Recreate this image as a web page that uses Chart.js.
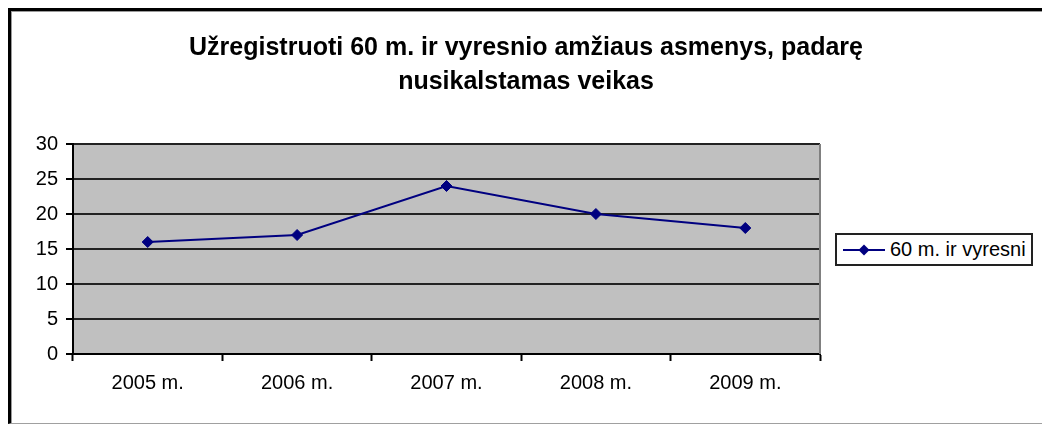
<!DOCTYPE html>
<html lang="lt">
<head>
<meta charset="utf-8">
<script src="https://cdn.jsdelivr.net/npm/chart.js@4.4.1/dist/chart.umd.min.js"></script>
<style>
    html, body { margin: 0; padding: 0; background: #fff; }
    body { width: 1042px; height: 425px; position: relative; overflow: hidden; font-family: "Liberation Sans", Arial, sans-serif; }
    #frame {
        position: absolute; left: 8px; top: 8px; width: 1034px; height: 416px;
        border-left: 3px solid #000; border-top: 3px solid #000;
        border-bottom: 1px solid #a0a0a0;
        box-shadow: inset 1px 1px 0 #9a9a9a;
        box-sizing: border-box;
    }
    #chartWrap { position: absolute; left: 0; top: 0; width: 1042px; height: 425px; }
    #legend {
        position: absolute; left: 835px; top: 233px; width: 198px; height: 33px;
        border: 2px solid #222; box-sizing: border-box; background: #fff;
        display: flex; align-items: center;
    }
    #legend svg { margin-left: 6px; }
    #legend span { font-size: 20px; color: #000; margin-left: 5px; white-space: nowrap; }
</style>
</head>
<body>
<div id="frame"></div>
<div id="chartWrap"><canvas id="chart" width="1042" height="425"></canvas></div>
<div id="legend">
    <svg width="42" height="12" viewBox="0 0 42 12">
        <line x1="0" y1="6" x2="42" y2="6" stroke="#000080" stroke-width="2"/>
        <polygon points="21,0.5 26.5,6 21,11.5 15.5,6" fill="#000080"/>
    </svg>
    <span id="legendLabel"></span>
</div>
<script>
// Duomenys
const years = ['2005 m.', '2006 m.', '2007 m.', '2008 m.', '2009 m.'];
const persons60 = [16, 17, 24, 20, 18];
const seriesName = '60 m. ir vyresni';
const yTicks = [0, 5, 10, 15, 20, 25, 30];
const titleLines = ['Užregistruoti 60 m. ir vyresnio amžiaus asmenys, padarę', 'nusikalstamas veikas'];

document.getElementById('legendLabel').textContent = seriesName;

const FONT = '"Liberation Sans", Arial, sans-serif';

// Pilkas braižymo plotas (Excel stilius)
const plotArea = {
    id: 'plotArea',
    beforeDraw(chart) {
        const { ctx, chartArea: a } = chart;
        ctx.save();
        ctx.fillStyle = '#c0c0c0';
        ctx.fillRect(a.left, a.top, a.right - a.left, a.bottom - a.top);
        ctx.restore();
    },
    afterDatasetsDraw(chart) {
        const { ctx, chartArea: a } = chart;
        ctx.save();
        ctx.strokeStyle = '#808080';
        ctx.lineWidth = 2;
        ctx.beginPath();
        ctx.moveTo(a.right, a.top);
        ctx.lineTo(a.right, a.bottom);
        ctx.stroke();
        ctx.restore();
    }
};

const ctx = document.getElementById('chart').getContext('2d');
new Chart(ctx, {
    type: 'line',
    data: {
        labels: years,
        datasets: [{
            label: seriesName,
            data: persons60,
            borderColor: '#000080',
            backgroundColor: '#000080',
            borderWidth: 2,
            pointStyle: 'rectRot',
            pointRadius: 5.5,
            pointBorderWidth: 1,
            tension: 0
        }]
    },
    options: {
        responsive: false,
        animation: false,
        layout: { padding: { left: 10, right: 0, top: 0, bottom: 0 } },
        plugins: {
            legend: { display: false },
            tooltip: { enabled: false },
            title: {
                display: true,
                text: titleLines,
                color: '#000',
                font: { family: FONT, size: 25, weight: 'bold', lineHeight: 1.36 },
                padding: { top: 31, bottom: 45 }
            }
        },
        scales: {
            x: {
                offset: true,
                afterFit: s => { s.height = 71; },
                grid: {
                    offset: true,
                    drawOnChartArea: false,
                    drawTicks: true,
                    tickLength: 7,
                    tickColor: '#000',
                    tickWidth: 2
                },
                border: { display: true, color: '#000', width: 2 },
                ticks: {
                    color: '#000',
                    padding: 10,
                    maxRotation: 0,
                    font: { family: FONT, size: 20 }
                }
            },
            y: {
                min: 0,
                max: 30,
                afterFit: s => { s.width = 63; },
                afterBuildTicks: s => { s.ticks = yTicks.map(v => ({ value: v })); },
                grid: {
                    color: '#222',
                    lineWidth: 2,
                    tickLength: 7,
                    tickColor: '#000',
                    tickWidth: 2
                },
                border: { display: true, color: '#000', width: 2 },
                ticks: {
                    color: '#000',
                    padding: 8,
                    font: { family: FONT, size: 20 }
                }
            },
            // tuščia vieta legendai dešinėje
            side: {
                type: 'linear',
                position: 'right',
                afterFit: s => { s.width = 222; },
                grid: { display: false },
                border: { display: false },
                ticks: { display: false }
            }
        }
    },
    plugins: [plotArea]
});
</script>
</body>
</html>
